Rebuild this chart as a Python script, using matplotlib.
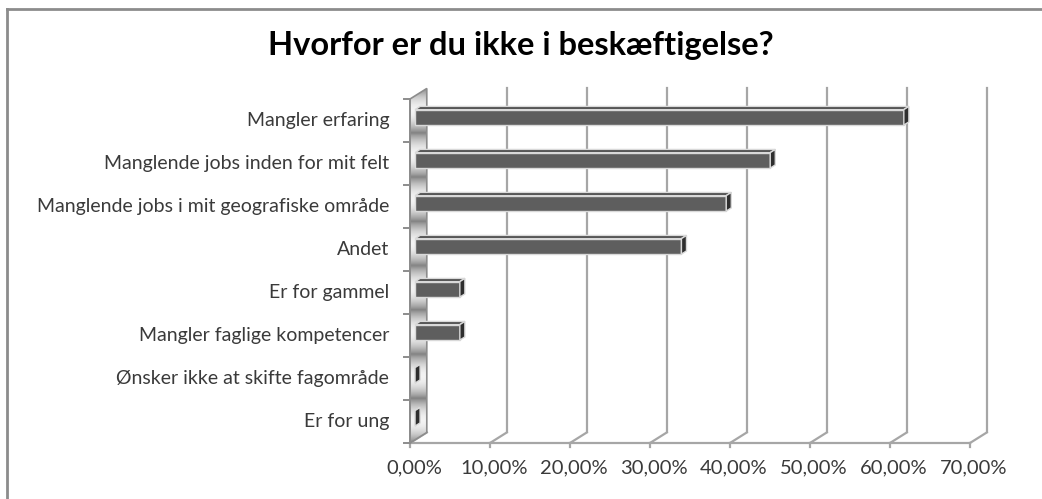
import numpy as np
import matplotlib
matplotlib.use("Agg")
import matplotlib.pyplot as plt
from matplotlib.patches import Polygon
from matplotlib.lines import Line2D

# survey answers (share of respondents, %)
categories = [
    "Mangler erfaring",
    "Manglende jobs inden for mit felt",
    "Manglende jobs i mit geografiske område",
    "Andet",
    "Er for gammel",
    "Mangler faglige kompetencer",
    "Ønsker ikke at skifte fagområde",
    "Er for ung",
]
values = [61.1, 44.4, 38.9, 33.3, 5.6, 5.6, 0.0, 0.0]
xticks = [0, 10, 20, 30, 40, 50, 60, 70]
xtick_labels = ["0,00%", "10,00%", "20,00%", "30,00%", "40,00%", "50,00%", "60,00%", "70,00%"]
title = "Hvorfor er du ikke i beskæftigelse?"

# fake 3d depth offset (in data units)
DX = 2.1
DY = 0.245
D0, D1 = 0.3, 0.6      # bar front/back depth
BH = 0.36              # bar thickness

FONT = "Lato"
W, H = 1042, 499

fig = plt.figure(figsize=(W / 100, H / 100), dpi=100)
fig.patch.set_facecolor("white")

# outer chart border (only top/left visible in the crop)
fig.add_artist(Line2D([7 / W, 7 / W], [0, 1 - 9 / H], transform=fig.transFigure,
                      color="#8c8c8c", lw=2))
fig.add_artist(Line2D([7 / W, 1], [1 - 9 / H, 1 - 9 / H], transform=fig.transFigure,
                      color="#8c8c8c", lw=2))

# axes placed so that 10% = 80px and one category = 43px
ax = fig.add_axes([400 / W, (H - 450) / H, 600 / W, 370 / H])
ax.set_xlim(-1.25, 73.75)
ax.set_ylim(-0.163, 8.442)
ax.axis("off")
ax.patch.set_alpha(0)

n = len(categories)
ypos = np.arange(n)[::-1]   # top category highest

grid_c = "#a6a6a6"
# back wall gridlines + floor diagonals
for v in xticks:
    if v > 0:
        ax.plot([v + DX, v + DX], [DY, n + DY], color=grid_c, lw=1.6, zorder=1)
    ax.plot([v, v + DX], [0, DY], color=grid_c, lw=1.6, zorder=1)
    ax.plot([v, v], [0, -0.09], color=grid_c, lw=1.6, zorder=1)
ax.plot([0, xticks[-1]], [0, 0], color=grid_c, lw=1.6, zorder=1)

# left side wall with per-category gradient
wall = Polygon([(0, 0), (DX, DY), (DX, n + DY), (0, n)], closed=True,
               facecolor="none", edgecolor="#8c8c8c", lw=1.2, zorder=3)
ax.add_patch(wall)
yy = np.linspace(0, n, 400)
frac = yy - np.floor(yy)
shade = 0.5 + 0.45 * np.sin(np.pi * frac) ** 0.8
img = ax.imshow(shade[::-1, None] * np.ones((1, 10)), cmap="gray", vmin=0, vmax=1,
                extent=[0, DX, 0, n + DY], aspect="auto", zorder=2, interpolation="bilinear")
img.set_clip_path(wall)

# category ticks on the wall front edge
for k in range(n + 1):
    ax.plot([-0.7, 0], [k, k], color="#8c8c8c", lw=1.4, zorder=3)
ax.plot([0, 0], [0, n], color="#8c8c8c", lw=1.4, zorder=3)

# bars: front face via barh, top and side faces as polygons
front_c, top_c, side_c, edge_c = "#5e5e5e", "#4a4a4a", "#2e2e2e", "#d9d9d9"
ax.barh(ypos + 0.5 + D0 * DY, values, height=BH, left=D0 * DX,
        color=front_c, edgecolor=edge_c, linewidth=1, zorder=5)
for y, v in zip(ypos, values):
    yb = y + 0.5 - BH / 2
    yt = y + 0.5 + BH / 2
    top = [(D0 * DX, yt + D0 * DY), (v + D0 * DX, yt + D0 * DY),
           (v + D1 * DX, yt + D1 * DY), (D1 * DX, yt + D1 * DY)]
    side = [(v + D0 * DX, yb + D0 * DY), (v + D0 * DX, yt + D0 * DY),
            (v + D1 * DX, yt + D1 * DY), (v + D1 * DX, yb + D1 * DY)]
    ax.add_patch(Polygon(top, closed=True, facecolor=top_c, edgecolor=edge_c, lw=1, zorder=4))
    ax.add_patch(Polygon(side, closed=True, facecolor=side_c, edgecolor=edge_c, lw=1, zorder=6))

# labels
for y, lab in zip(ypos, categories):
    ax.text(-2.6, y + 0.5, lab, ha="right", va="center", fontsize=14,
            family=FONT, color="#3a3a3a")
for v, lab in zip(xticks, xtick_labels):
    ax.text(v + 0.5, -0.58, lab, ha="center", va="center", fontsize=14.5,
            family=FONT, color="#3a3a3a")

fig.text(521 / W, 1 - 45 / H, title, ha="center", va="center", fontsize=23.5,
         fontweight="bold", family=FONT, color="black")

fig.savefig("out.png", dpi=100)
